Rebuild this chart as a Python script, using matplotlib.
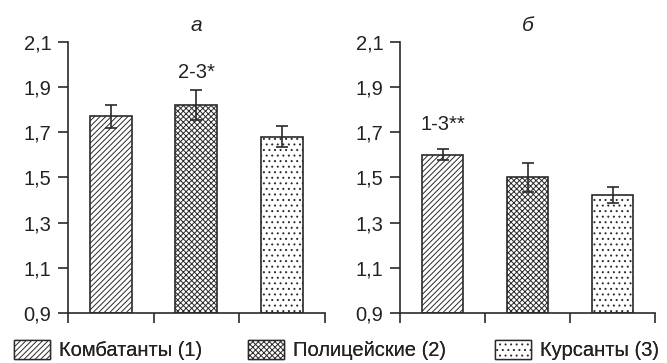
import matplotlib.pyplot as plt
import matplotlib.patches as mpatches

plt.rcParams['font.family'] = ['Liberation Sans', 'DejaVu Sans']
plt.rcParams['hatch.linewidth'] = 0.7
plt.rcParams['hatch.color'] = '#222222'

groups = ['Комбатанты (1)', 'Полицейские (2)', 'Курсанты (3)']
hatches = ['//////', 'xxxxxx', '...']

means_a = [1.77, 1.82, 1.68]
errs_a = [0.05, 0.065, 0.045]
means_b = [1.60, 1.50, 1.42]
errs_b = [0.025, 0.065, 0.035]

yticks = [0.9, 1.1, 1.3, 1.5, 1.7, 1.9, 2.1]
ytick_labels = ['0,9', '1,1', '1,3', '1,5', '1,7', '1,9', '2,1']

fig = plt.figure(figsize=(6.67, 3.63), dpi=100)
ax1 = fig.add_axes([0.102, 0.138, 0.385, 0.747])
ax2 = fig.add_axes([0.600, 0.138, 0.382, 0.747])

ec = '#2a2a2a'
tc = '#222222'


def draw(ax, means, errs, title):
    x = [0.5, 1.5, 2.5]
    for i in range(3):
        ax.bar(x[i], means[i] - 0.9, bottom=0.9, width=0.49, color='white',
               edgecolor=ec, linewidth=1.2, hatch=hatches[i], zorder=2)
    ax.errorbar(x, means, yerr=errs, fmt='none', ecolor=ec, elinewidth=1.2,
                capsize=4.5, capthick=1.2, zorder=3)
    ax.set_xlim(0, 3)
    ax.set_ylim(0.9, 2.1)
    ax.set_yticks(yticks)
    ax.set_yticklabels(ytick_labels)
    ax.set_xticks([0, 1, 2, 3])
    ax.set_xticklabels([])
    ax.spines['top'].set_visible(False)
    ax.spines['right'].set_visible(False)
    for s in ['left', 'bottom']:
        ax.spines[s].set_color(ec)
        ax.spines[s].set_linewidth(1.2)
    ax.tick_params(axis='both', direction='out', length=7, width=1.2,
                   color=ec, labelsize=14.5, labelcolor=tc, pad=5)
    ax.set_title(title, fontsize=15, style='italic', color=tc, pad=8)


draw(ax1, means_a, errs_a, 'а')
draw(ax2, means_b, errs_b, 'б')

ax1.text(1.5, 1.962, '2-3*', ha='center', va='center', fontsize=14.5, color=tc)
ax2.text(0.5, 1.735, '1-3**', ha='center', va='center', fontsize=14.5, color=tc)

leg_x = [0.021, 0.372, 0.742]
for i in range(3):
    h = mpatches.Patch(facecolor='white', edgecolor=ec, hatch=hatches[i],
                       linewidth=1.0, label=groups[i])
    leg = fig.legend(handles=[h], loc='center left', bbox_to_anchor=(leg_x[i], 0.036),
                     frameon=False, fontsize=14.5, handlelength=1.8,
                     handleheight=1.1, handletextpad=0.45, borderpad=0,
                     borderaxespad=0, labelcolor=tc)
    fig.add_artist(leg)

fig.savefig('out.png', dpi=100)
